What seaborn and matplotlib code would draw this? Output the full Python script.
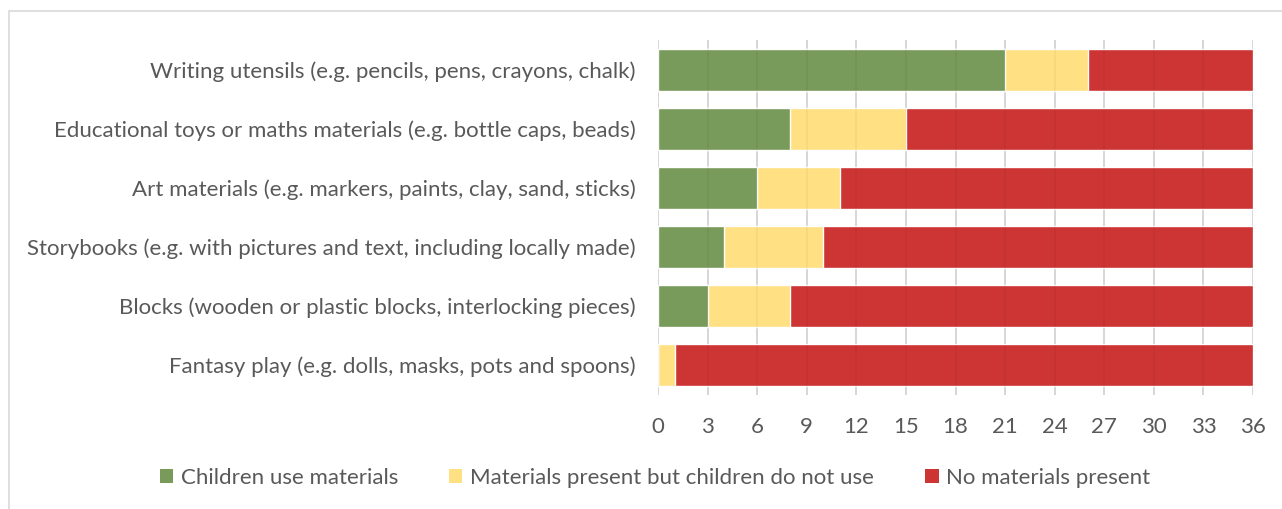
import matplotlib
matplotlib.use("Agg")
import matplotlib.pyplot as plt
from matplotlib.patches import Patch, Rectangle
import numpy as np
import pandas as pd
import seaborn as sns

categories = [
    "Writing utensils (e.g. pencils, pens, crayons, chalk)",
    "Educational toys or maths materials (e.g. bottle caps, beads)",
    "Art materials (e.g. markers, paints, clay, sand, sticks)",
    "Storybooks (e.g. with pictures and text, including locally made)",
    "Blocks (wooden or plastic blocks, interlocking pieces)",
    "Fantasy play (e.g. dolls, masks, pots and spoons)",
]
use_materials = [21, 8, 6, 4, 3, 0]
present_not_used = [5, 7, 5, 6, 5, 1]
not_present = [10, 21, 25, 26, 28, 35]
series_names = ["Children use materials",
                "Materials present but children do not use",
                "No materials present"]
colors = ["#789A5A", "#FFE083", "#CD3434"]
xticks = list(range(0, 37, 3))

sns.set_theme(style="white")
plt.rcParams["font.family"] = ["Lato", "DejaVu Sans"]
TXT = "#595959"

df = pd.DataFrame({"category": categories,
                   "s0": use_materials, "s1": present_not_used, "s2": not_present})
df["c0"] = df["s0"]
df["c1"] = df["s0"] + df["s1"]
df["c2"] = df["c1"] + df["s2"]

fig = plt.figure(figsize=(12.82, 5.09), dpi=100)
ax = fig.add_axes([658 / 1282, 1 - 394.5 / 509, 595 / 1282, 354 / 509])

# stacked bars: draw cumulative totals back to front
for col, c in zip(["c2", "c1", "c0"], colors[::-1]):
    sns.barplot(data=df, x=col, y="category", color=c, width=0.72,
                saturation=1, ax=ax, order=categories, zorder=2)

ax.set_xlim(0, 36)
ax.set_xticks(xticks)
for x in xticks:
    ax.axvline(x, color="#D9D9D9", lw=1.2, zorder=1)
    ax.axvline(x, color="black", lw=1.2, alpha=0.045, zorder=3)
ax.set_xlabel("")
ax.set_ylabel("")
for s in ax.spines.values():
    s.set_visible(False)
ax.tick_params(axis="y", length=0, pad=16, labelsize=16, labelcolor=TXT)
ax.tick_params(axis="x", length=0, pad=16.5, labelsize=16, labelcolor=TXT)

handles = [Patch(facecolor=c, edgecolor="none") for c in colors]
fig.legend(handles, series_names, loc="center", ncol=3, frameon=False,
           bbox_to_anchor=(655 / 1282, 1 - 478 / 509), fontsize=16,
           labelcolor=TXT, handlelength=0.6, handleheight=0.6,
           handletextpad=0.35, columnspacing=2.3)

# chart frame
fig.patches.append(Rectangle((9 / 1282, -0.1), 1.2, 1 - 11 / 509 + 0.1,
                             transform=fig.transFigure, fill=False,
                             edgecolor="#D9D9D9", lw=1.2))

fig.savefig("out.png", dpi=100)
